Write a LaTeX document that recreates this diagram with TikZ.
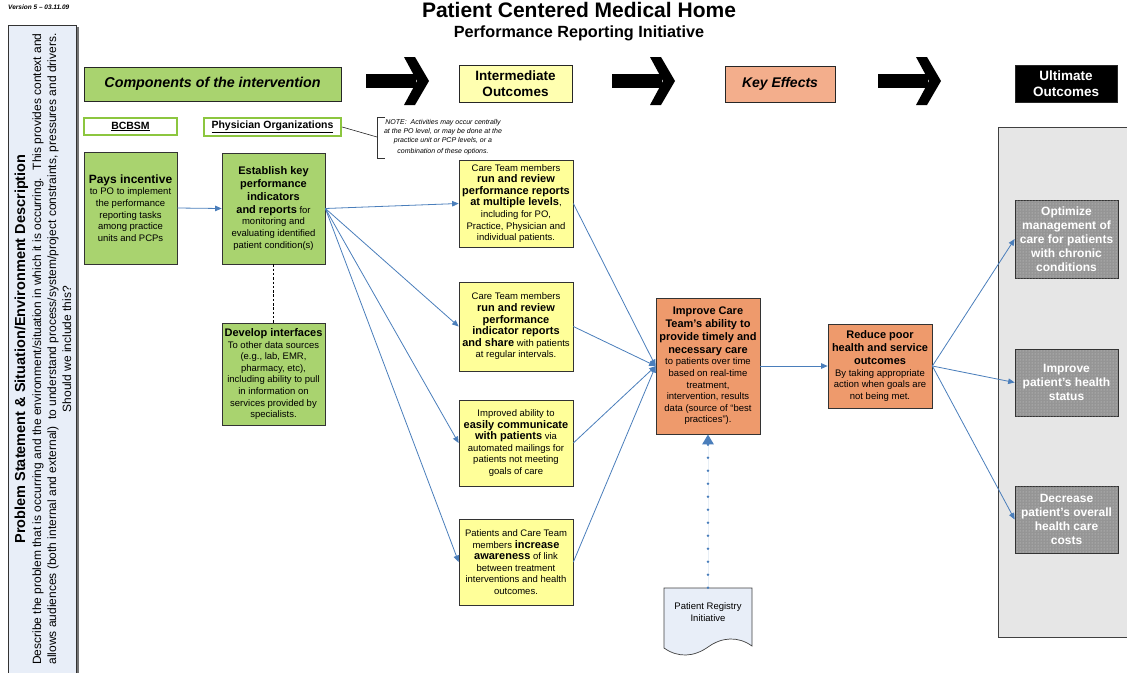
\documentclass[tikz,border=0pt]{standalone}
\usepackage{fontspec}
\setmainfont{Liberation Sans}
\usetikzlibrary{arrows.meta,patterns,calc}

\definecolor{grn}{HTML}{A9D36F}
\definecolor{grnedge}{HTML}{8CC63F}
\definecolor{yel}{HTML}{FFFF99}
\definecolor{yelhd}{HTML}{FFFFB0}
\definecolor{orn}{HTML}{EE9A6C}
\definecolor{ornhd}{HTML}{F3AE8C}
\definecolor{arrblue}{HTML}{4A7EBB}
\definecolor{lblue}{HTML}{E8EEF8}
\definecolor{pgray}{HTML}{E6E6E6}
\definecolor{ugray}{HTML}{959595}

\newcommand{\nfont}{\fontsize{9.5}{11.6}\selectfont}
\newcommand{\bt}[1]{{\fontsize{11}{13}\selectfont\bfseries #1}}

\begin{document}
\begin{tikzpicture}[x=1pt,y=-1pt,
  box/.style={draw=black!80, line width=0.7pt, inner sep=0pt, align=center, font=\nfont},
  grnbox/.style={box, fill=grn},
  yelbox/.style={box, fill=yel},
  ornbox/.style={box, fill=orn},
  ultbox/.style={draw=black!80, line width=0.7pt, fill=ugray,
    postaction={pattern=dots, pattern color=white!65!gray},
    inner sep=0pt, align=center, text=white,
    font=\fontsize{12}{14}\selectfont\bfseries, minimum width=103},
  hdr/.style={draw=black!85, line width=0.8pt, inner sep=0pt, align=center},
  orgbox/.style={draw=grnedge, line width=2.4pt, fill=white, inner sep=0pt,
    font=\fontsize{10.5}{12}\selectfont\bfseries},
  conn/.style={draw=arrblue, line width=0.8pt, -{Triangle[width=5.5pt,length=6.5pt]}},
  bigarrow/.style={fill=black}
]
\useasboundingbox (0,0) rectangle (1127,672);

% version and titles
\node[anchor=west, inner sep=0pt, font=\fontsize{6.5}{8}\selectfont\bfseries\itshape] (ver) at (8,7) {Version 5 -- 03.11.09};
\node[inner sep=0pt, font=\fontsize{21}{24}\selectfont\bfseries] (title) at (579,10) {Patient Centered Medical Home};
\node[inner sep=0pt, font=\fontsize{16.2}{18}\selectfont\bfseries] (subtitle) at (579,33) {Performance Reporting Initiative};

% left panel
\fill[black!55] (10.5,27) rectangle (78.5,690);
\filldraw[fill=lblue, draw=black!80, line width=0.8pt] (8,25) rectangle (76,690);
\node[rotate=90, align=center, inner sep=0pt, font=\fontsize{12}{15}\selectfont] (prob) at (43,349)
 {{\fontsize{14.5}{16}\selectfont\bfseries Problem Statement \& Situation/Environment Description}\\[1pt]
  Describe the problem that is occurring and the environment/situation in which it is occurring.~ This provides context and\\
  allows audiences (both internal and external)~ to understand process/system/project constraints, pressures and drivers.\\
  Should we include this?};

% right panel
\filldraw[fill=pgray, draw=black!75, line width=0.8pt] (998,127) rectangle (1140,637);

% headers
\node[hdr, fill=grn, minimum width=257, minimum height=34, font=\fontsize{14.3}{17}\selectfont\bfseries\itshape] (comp) at (212.5,84) {Components of the intervention};
\node[hdr, fill=yelhd, minimum width=113, minimum height=37, font=\fontsize{13.5}{16.5}\selectfont\bfseries] (inth) at (515.5,83.5) {Intermediate\\Outcomes};
\node[hdr, fill=ornhd, minimum width=110, minimum height=36, font=\fontsize{14}{17}\selectfont\bfseries\itshape] (keyh) at (780,84) {Key Effects};
\node[hdr, fill=black, text=white, minimum width=102, minimum height=37, font=\fontsize{13.5}{16.5}\selectfont\bfseries] (ulth) at (1066,83.5) {Ultimate\\Outcomes};

% big black arrows
\foreach \ax in {366,612,878} {
  \fill[bigarrow] (\ax,74) -- ++(50,0) -- ++(0,14) -- ++(-50,0) -- cycle;
  \fill[bigarrow] (\ax+38,57) -- (\ax+49,57) -- (\ax+63,81) -- (\ax+49,105) -- (\ax+38,105) -- (\ax+51,81) -- cycle;
}

% organisations
\node[orgbox, minimum width=93, minimum height=17] (bcbsm) at (130.5,126.5) {\underline{BCBSM}};
\node[orgbox, minimum width=137, minimum height=18] (po) at (272.5,127) {\underline{Physician Organizations}};

% note callout
\draw[black!80, line width=0.6pt] (385,117) -- (377,117) -- (377,158) -- (385,158);
\coordinate (notept) at (377,137);
\draw[black!85, line width=0.6pt] (po.east) -- (notept);
\node[align=center, inner sep=0pt, font=\fontsize{7}{9.2}\selectfont\itshape] (note) at (443,137)
 {NOTE:~ Activities may occur centrally\\ at the PO level, or may be done at the\\ practice unit or PCP levels, or a\\[1.5pt] combination of these options.};

% component boxes
\node[grnbox, minimum width=93, minimum height=112] (pay) at (130.5,208)
 {{\fontsize{12}{14}\selectfont\bfseries Pays incentive}\\ to PO to implement\\ the performance\\ reporting tasks\\ among practice\\ units and PCPs};
\node[grnbox, minimum width=103, minimum height=111] (est) at (273.5,208.5)
 {\bt{Establish key}\\[1.2pt] \bt{performance}\\[1.2pt] \bt{indicators}\\[1.2pt] \bt{and reports} for\\ monitoring and\\ evaluating identified\\ patient condition(s)};
\node[grnbox, minimum width=103, minimum height=102] (dev) at (273.5,374)
 {\bt{Develop interfaces}\\ To other data sources\\ (e.g., lab, EMR,\\ pharmacy, etc),\\ including ability to pull\\ in information on\\ services provided by\\ specialists.};

% intermediate outcomes
\node[yelbox, minimum width=114, minimum height=87] (ia) at (516,203.5)
 {Care Team members\\ \bt{run and review}\\ \bt{performance reports}\\ \bt{at multiple levels},\\ including for PO,\\ Practice, Physician and\\ individual patients.};
\node[yelbox, minimum width=114, minimum height=89] (ib) at (516,326.5)
 {Care Team members\\ \bt{run and review}\\ \bt{performance}\\ \bt{indicator reports}\\ \bt{and share} with patients\\ at regular intervals.};
\node[yelbox, minimum width=114, minimum height=86] (ic) at (516,443)
 {Improved ability to\\ \bt{easily communicate}\\ \bt{with patients} via\\ automated mailings for\\ patients not meeting\\ goals of care};
\node[yelbox, minimum width=114, minimum height=86] (id) at (516,562)
 {Patients and Care Team\\ members \bt{increase}\\ \bt{awareness} of link\\ between treatment\\ interventions and health\\ outcomes.};

% key effects
\node[ornbox, minimum width=104, minimum height=136] (imp) at (708,366)
 {\bt{Improve Care}\\[1.2pt] \bt{Team's ability to}\\[1.2pt] \bt{provide timely and}\\[1.2pt] \bt{necessary care}\\ to patients over time\\ based on real-time\\ treatment,\\ intervention, results\\ data (source of “best\\ practices”).};
\node[ornbox, minimum width=104, minimum height=84] (red) at (880,366)
 {\bt{Reduce poor}\\[1.2pt] \bt{health and service}\\[1.2pt] \bt{outcomes}\\ By taking appropriate\\ action when goals are\\ not being met.};

% ultimate outcomes
\node[ultbox, minimum height=78] (opt) at (1066.5,239) {Optimize\\ management of\\ care for patients\\ with chronic\\ conditions};
\node[ultbox, minimum height=67] (hlth) at (1066.5,382.5) {Improve\\ patient's health\\ status};
\node[ultbox, minimum height=67] (dec) at (1066.5,519.5) {Decrease\\ patient's overall\\ health care\\ costs};

% patient registry document
\filldraw[fill=lblue, draw=black!75, line width=0.7pt] (664,588) -- (752,588) -- (752,646)
  .. controls (738,636) and (722,637) .. (708,647)
  .. controls (694,657) and (678,658) .. (664,648) -- cycle;
\node[align=center, inner sep=0pt, minimum width=88, minimum height=48, font=\nfont] (doc) at (708,612) {Patient Registry\\ Initiative};

% connectors
\draw[black, line width=0.7pt, dashed, dash pattern=on 2.5pt off 1.8pt] (est.south) -- (dev.north);
\draw[conn] (pay.east) -- (est.west);
\foreach \t in {ia,ib,ic,id} { \draw[conn] (est.east) -- (\t.west); }
\foreach \t in {ia,ib,ic,id} { \draw[conn] (\t.east) -- (imp.west); }
\draw[conn] (imp.east) -- (red.west);
\foreach \t in {opt,hlth,dec} { \draw[conn] (red.east) -- (\t.west); }
\draw[draw=arrblue, fill=arrblue, line width=2.7pt, line cap=round, dash pattern=on 0pt off 13pt,
  -{Triangle[width=11pt,length=10pt]}] (doc.north) -- (imp.south);
\end{tikzpicture}
\end{document}
